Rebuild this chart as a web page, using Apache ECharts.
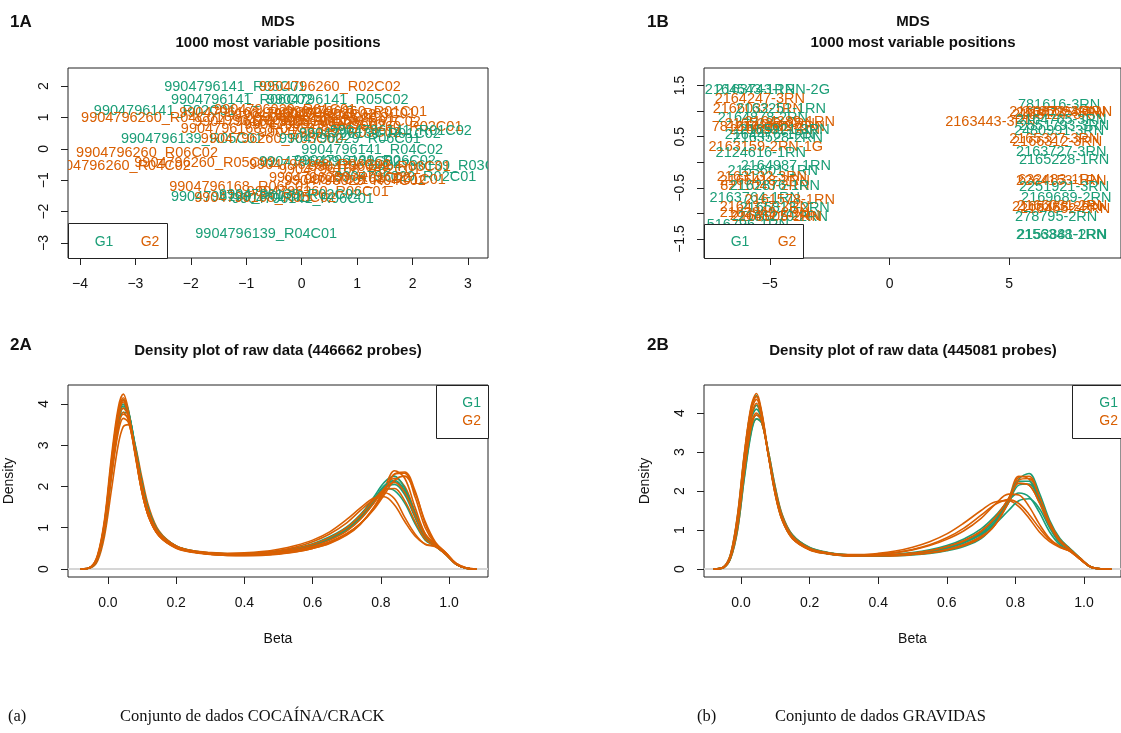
<!DOCTYPE html>
<html><head><meta charset="utf-8">
<script src="https://cdn.jsdelivr.net/npm/echarts@6/dist/echarts.min.js"></script>
<style>html,body{margin:0;padding:0;background:#fff}#c{width:1121px;height:733px}</style>
</head><body><div id="c"></div>
<script>
// ---------- colours ----------
const COL = { G1: '#1B9E77', G2: '#D95F02' };

// ---------- 1A : MDS (COCAINA/CRACK) ----------
const mdsA_labels = ["9904796141_R05C01","9904796260_R02C02","9904796141_R06C02","9904796141_R05C02","9904796141_R02C01","9904796260_R04C01","9904796260_R01C01","9904796168_R02C02","9904796029_R01C01","9904796029_R02C02","9904796168_R03C01","9904796260_R03C01","9904796029_R04C01","9904796168_R05C01","9904796029_R05C02","9904796168_R01C02","9904796260_R02C01","9904796141_R01C02","9904796168_R04C01","9904796029_R03C02","9904796139_R01C02","9904796139_R05C01","9904796260_R03C02","9904796029_R06C01","9904796260_R06C02","9904796141_R04C02","9904796260_R04C02","9904796260_R05C02","9904796139_R03C02","9904796029_R01C02","9904796139_R06C02","9904796168_R06C02","9904796029_R03C01","9904796168_R02C01","9904796029_R02C01","9904796168_R01C01","9904796260_R01C02","9904796029_R04C02","9904796168_R06C01","9904796260_R06C01","9904796139_R02C01","9904796141_R06C01","9904796168_R05C02","9904796139_R04C01","9904796139_R02C02"];
const mdsA_group  = ["G1","G2","G1","G1","G1","G2","G2","G2","G2","G2","G2","G2","G2","G2","G2","G2","G2","G1","G2","G2","G1","G1","G2","G1","G2","G1","G2","G2","G1","G1","G1","G2","G2","G2","G1","G2","G2","G2","G2","G2","G1","G1","G2","G1","G1"];
const mdsA_x = [-1.20,0.51,-1.08,0.65,-2.47,-2.70,0.98,-0.93,-0.30,0.06,0.42,0.78,-0.12,-0.66,0.24,0.87,1.62,1.79,-0.90,0.51,1.23,-1.98,-0.54,0.87,-2.79,1.27,-3.28,-1.74,2.50,0.51,1.14,0.33,1.41,0.87,1.87,1.32,0.69,0.96,-1.11,0.29,-1.08,0.02,-0.66,-0.64,-0.21];
const mdsA_y = [1.97,1.97,1.56,1.56,1.21,0.99,1.18,1.15,1.24,1.08,0.99,1.11,0.89,0.86,0.76,0.86,0.70,0.57,0.64,0.51,0.48,0.32,0.32,0.32,-0.13,-0.03,-0.54,-0.45,-0.54,-0.41,-0.38,-0.51,-0.57,-0.67,-0.89,-0.99,-0.92,-1.02,-1.21,-1.37,-1.53,-1.59,-1.56,-2.71,-1.46];
const mdsA_xTicks = [-4,-3,-2,-1,0,1,2,3];
const mdsA_yTicks = [-3,-2,-1,0,1,2];

// ---------- 1B : MDS (GRAVIDAS) ----------
const mdsB_labels = ["2164543-1RN","2163743-1RN-2G","2164247-3RN","2166032-1RN","2163251-1RN","2164878-2RN","781614-2RN","2165239-3RN","2163662-2RN","2164389-1RN","2166501-3RN","2165921-3RN","2163528-2RN","2164476-1RN","2163159-2RN-1G","2124616-1RN","2164987-1RN","2163601-1RN","2163132-3RN","2165418-2RN","8211043-2RN","2162876-1RN","2163764-1RN","2161578-1RN","2164327-2RN","2165813-2RN","2162949-2RN","2164121-2RN","2166270-2RN","2163905-2RN","516796-1RN","781616-3RN","2163872-3RN","2164735-3RN","2165094-3RN","2166127-3RN","2163443-3RN","2164765-3RN","2551793-3RN","2480991-3RN","2165327-3RN","2166312-3RN","2163727-3RN","2165228-1RN","632483-1RN","2264153-1RN","2251921-3RN","2169689-2RN","2165383-2RN","2166031-2RN","2164552-2RN","278795-2RN","2153881-2RN","2156348-1RN"];
const mdsB_group = ["G1","G1","G2","G2","G1","G1","G2","G2","G2","G2","G2","G1","G1","G1","G2","G1","G1","G1","G2","G2","G2","G1","G1","G2","G2","G1","G2","G2","G1","G2","G1","G1","G2","G2","G2","G2","G2","G1","G1","G1","G2","G2","G1","G1","G2","G2","G1","G1","G2","G2","G2","G1","G1","G1"];
const mdsB_x = [-5.83,-4.88,-5.42,-5.50,-4.54,-5.29,-5.71,-5.00,-4.58,-4.17,-4.79,-4.38,-4.67,-5.00,-5.17,-5.38,-4.33,-4.88,-5.33,-5.21,-5.21,-4.79,-5.63,-4.17,-5.21,-4.38,-5.21,-4.79,-4.46,-4.71,-5.92,7.08,6.88,7.17,7.42,7.00,4.21,7.17,7.29,7.08,6.88,7.00,7.17,7.29,7.08,7.17,7.29,7.38,7.00,7.21,7.33,6.96,7.21,7.17];
const mdsB_y = [1.41,1.41,1.23,1.04,1.04,0.86,0.68,0.74,0.68,0.78,0.63,0.63,0.47,0.53,0.29,0.18,-0.08,-0.18,-0.29,-0.37,-0.47,-0.47,-0.70,-0.74,-0.88,-0.90,-1.00,-1.06,-1.07,-1.07,-1.23,1.11,0.98,0.96,0.98,0.92,0.78,0.82,0.70,0.61,0.45,0.39,0.21,0.04,-0.35,-0.37,-0.49,-0.70,-0.88,-0.86,-0.92,-1.07,-1.43,-1.43];
const mdsB_xTicks = [-5,0,5];
const mdsB_yTicks = [-1.5,-1,-0.5,0,0.5,1,1.5];
const mdsB_yLabels = [-1.5,-0.5,0.5,1.5];

// ---------- 2A : density (446662 probes) ----------
const betaA = [-0.08,-0.05,-0.03,-0.01,0.01,0.03,0.045,0.06,0.08,0.10,0.12,0.15,0.2,0.25,0.3,0.35,0.4,0.45,0.5,0.55,0.6,0.65,0.7,0.74,0.78,0.81,0.84,0.87,0.9,0.93,0.96,0.99,1.02,1.05,1.08];
const densA_G1 = [
 [0,0.04,0.27,1.0,2.35,3.55,3.95,3.8,2.95,2.05,1.38,0.88,0.55,0.43,0.38,0.35,0.35,0.37,0.41,0.47,0.57,0.72,0.95,1.25,1.65,1.95,2.05,1.8,1.25,0.75,0.56,0.36,0.12,0.02,0],
 [0,0.05,0.3,1.08,2.5,3.7,4.1,3.85,2.9,1.95,1.3,0.84,0.53,0.42,0.37,0.35,0.35,0.37,0.41,0.47,0.58,0.74,0.98,1.3,1.75,2.1,2.25,1.95,1.35,0.8,0.57,0.37,0.12,0.02,0],
 [0,0.04,0.25,0.95,2.25,3.4,3.8,3.75,3.0,2.1,1.42,0.9,0.56,0.44,0.39,0.37,0.37,0.39,0.43,0.5,0.61,0.78,1.02,1.32,1.7,1.95,1.9,1.6,1.1,0.7,0.55,0.36,0.12,0.02,0],
 [0,0.04,0.28,1.02,2.4,3.6,4.0,3.8,2.9,2.0,1.35,0.86,0.54,0.42,0.37,0.34,0.34,0.36,0.4,0.46,0.56,0.71,0.94,1.22,1.62,2.0,2.15,1.9,1.3,0.78,0.56,0.36,0.12,0.02,0],
 [0,0.04,0.26,0.98,2.3,3.5,3.9,3.8,2.95,2.05,1.38,0.87,0.55,0.43,0.38,0.36,0.36,0.38,0.42,0.48,0.59,0.75,0.98,1.28,1.68,2.02,2.12,1.85,1.3,0.78,0.56,0.36,0.12,0.02,0]
];
const densA_G2 = [
 [0,0.05,0.35,1.2,2.7,3.9,4.24,3.85,2.8,1.85,1.25,0.8,0.52,0.42,0.37,0.35,0.35,0.37,0.41,0.47,0.57,0.72,0.95,1.25,1.65,2.0,2.2,2.0,1.4,0.85,0.6,0.38,0.12,0.02,0],
 [0,0.03,0.2,0.8,1.9,3.0,3.45,3.5,3.0,2.2,1.5,0.92,0.55,0.42,0.36,0.33,0.32,0.33,0.36,0.41,0.5,0.63,0.85,1.1,1.5,1.9,2.3,2.35,1.9,1.1,0.62,0.4,0.14,0.03,0],
 [0,0.04,0.28,1.0,2.3,3.5,3.8,3.6,2.8,1.95,1.3,0.85,0.55,0.44,0.4,0.38,0.39,0.42,0.48,0.57,0.7,0.9,1.2,1.48,1.72,1.75,1.55,1.15,0.8,0.6,0.55,0.36,0.12,0.02,0],
 [0,0.05,0.3,1.1,2.5,3.7,4.05,3.7,2.75,1.85,1.25,0.8,0.5,0.4,0.35,0.33,0.33,0.34,0.37,0.42,0.5,0.62,0.82,1.08,1.5,1.95,2.38,2.2,1.5,0.85,0.58,0.38,0.12,0.02,0],
 [0,0.04,0.25,0.95,2.2,3.3,3.65,3.55,2.85,2.0,1.35,0.88,0.56,0.44,0.39,0.37,0.37,0.4,0.45,0.53,0.66,0.85,1.12,1.42,1.7,1.85,1.7,1.25,0.85,0.6,0.54,0.35,0.12,0.02,0],
 [0,0.04,0.28,1.05,2.4,3.6,3.9,3.7,2.9,2.0,1.35,0.85,0.53,0.41,0.36,0.34,0.34,0.36,0.39,0.44,0.53,0.66,0.86,1.1,1.45,1.8,2.15,2.25,1.85,1.15,0.65,0.4,0.14,0.03,0],
 [0,0.05,0.33,1.15,2.6,3.8,4.15,3.8,2.8,1.85,1.25,0.8,0.51,0.41,0.36,0.34,0.34,0.36,0.4,0.46,0.55,0.7,0.92,1.2,1.6,1.95,2.1,1.85,1.3,0.8,0.58,0.37,0.12,0.02,0],
 [0,0.04,0.27,1.0,2.35,3.45,3.75,3.65,2.9,2.02,1.36,0.87,0.55,0.43,0.38,0.36,0.36,0.38,0.42,0.49,0.6,0.76,1.0,1.3,1.68,1.92,1.95,1.65,1.15,0.72,0.55,0.36,0.12,0.02,0],
 [0,0.05,0.32,1.12,2.55,3.75,4.1,3.75,2.8,1.88,1.27,0.82,0.52,0.41,0.36,0.34,0.34,0.35,0.38,0.43,0.51,0.64,0.84,1.1,1.48,1.85,2.3,2.32,1.75,1.0,0.6,0.39,0.13,0.02,0]
];

// ---------- 2B : density (445081 probes) ----------
const betaB = [-0.08,-0.05,-0.03,-0.01,0.01,0.03,0.045,0.06,0.08,0.10,0.12,0.15,0.2,0.25,0.3,0.35,0.4,0.45,0.5,0.55,0.6,0.65,0.7,0.74,0.78,0.81,0.84,0.87,0.9,0.93,0.96,0.99,1.02,1.05,1.08];
const densB_G1 = [
 [0,0.06,0.4,1.38,2.95,4.15,4.45,4.0,2.92,1.92,1.26,0.79,0.5,0.39,0.34,0.33,0.33,0.34,0.36,0.4,0.47,0.58,0.78,1.15,1.7,2.3,2.45,1.95,1.25,0.78,0.52,0.27,0.06,0.005,0],
 [0,0.04,0.3,1.1,2.5,3.65,3.95,3.8,2.95,2.02,1.34,0.84,0.53,0.42,0.37,0.36,0.36,0.38,0.42,0.49,0.6,0.77,1.03,1.35,1.75,1.95,1.85,1.45,0.95,0.62,0.47,0.25,0.05,0.005,0],
 [0,0.05,0.35,1.25,2.75,3.95,4.2,3.9,2.92,1.95,1.28,0.8,0.51,0.4,0.35,0.34,0.34,0.36,0.39,0.44,0.53,0.67,0.9,1.2,1.7,2.15,2.18,1.75,1.12,0.7,0.5,0.26,0.05,0.005,0],
 [0,0.04,0.28,1.02,2.35,3.5,3.85,3.75,3.0,2.08,1.38,0.87,0.55,0.43,0.37,0.35,0.35,0.36,0.4,0.45,0.54,0.67,0.88,1.15,1.5,1.75,1.8,1.55,1.05,0.66,0.5,0.26,0.05,0.005,0],
 [0,0.05,0.33,1.2,2.65,3.85,4.1,3.85,2.93,1.98,1.3,0.82,0.52,0.41,0.36,0.34,0.34,0.36,0.39,0.45,0.54,0.69,0.93,1.25,1.78,2.25,2.25,1.8,1.2,0.74,0.51,0.26,0.05,0.005,0]
];
const densB_G2 = [
 [0,0.06,0.4,1.4,3.0,4.2,4.5,4.05,2.95,1.95,1.28,0.8,0.5,0.4,0.35,0.34,0.34,0.35,0.38,0.43,0.5,0.63,0.85,1.2,1.8,2.38,2.3,1.75,1.15,0.72,0.5,0.25,0.05,0.005,0],
 [0,0.05,0.33,1.2,2.7,3.9,4.2,3.85,2.9,1.95,1.3,0.82,0.52,0.42,0.37,0.37,0.4,0.46,0.56,0.7,0.9,1.18,1.5,1.72,1.75,1.6,1.3,0.95,0.7,0.55,0.45,0.24,0.05,0.005,0],
 [0,0.04,0.28,1.0,2.4,3.55,3.85,3.75,3.0,2.1,1.4,0.88,0.55,0.42,0.36,0.35,0.35,0.37,0.41,0.47,0.57,0.73,0.98,1.3,1.8,2.2,2.15,1.7,1.1,0.68,0.48,0.25,0.05,0.005,0],
 [0,0.05,0.36,1.3,2.85,4.05,4.35,3.95,2.9,1.9,1.25,0.78,0.49,0.39,0.34,0.33,0.33,0.34,0.37,0.41,0.48,0.6,0.8,1.12,1.75,2.35,2.38,1.85,1.15,0.72,0.5,0.26,0.05,0.005,0],
 [0,0.05,0.32,1.15,2.6,3.75,4.0,3.8,2.9,2.0,1.33,0.84,0.53,0.42,0.37,0.36,0.38,0.42,0.49,0.6,0.76,0.98,1.3,1.65,1.92,1.9,1.6,1.15,0.78,0.58,0.46,0.24,0.05,0.005,0],
 [0,0.04,0.3,1.1,2.5,3.65,3.95,3.8,2.95,2.0,1.33,0.83,0.52,0.41,0.35,0.34,0.34,0.35,0.38,0.42,0.5,0.62,0.82,1.12,1.7,2.28,2.32,1.85,1.2,0.75,0.5,0.27,0.06,0.005,0],
 [0,0.06,0.38,1.35,2.95,4.15,4.42,4.0,2.9,1.9,1.25,0.78,0.5,0.4,0.35,0.35,0.37,0.42,0.5,0.62,0.8,1.05,1.38,1.65,1.78,1.68,1.4,1.05,0.75,0.57,0.45,0.24,0.05,0.005,0],
 [0,0.05,0.34,1.22,2.7,3.9,4.25,3.9,2.92,1.95,1.29,0.81,0.51,0.4,0.35,0.34,0.35,0.37,0.41,0.47,0.57,0.72,0.96,1.3,1.8,2.2,2.15,1.7,1.12,0.7,0.49,0.26,0.05,0.005,0]
];
const densXTicks = [0,0.2,0.4,0.6,0.8,1.0];
const densA_yTicks = [0,1,2,3,4];
const densB_yTicks = [0,1,2,3,4];

// ---------- texts ----------
const panelTags = ["1A","1B","2A","2B"];
const titleMDS = ["MDS","1000 most variable positions"];
const titleDensA = "Density plot of raw data (446662 probes)";
const titleDensB = "Density plot of raw data (445081 probes)";
const groupNames = ["G1","G2"];
const captionA = ["(a)","Conjunto de dados COCAÍNA/CRACK"];
const captionB = ["(b)","Conjunto de dados GRAVIDAS"];

// ---------- layout ----------
const FONT = 'Liberation Sans';
const minus = v => String(v).replace('-', '\u2212');
const grids = [
  {left:68, top:68, width:420, height:190},
  {left:704, top:68, width:418, height:190},
  {left:68, top:385, width:420, height:192},
  {left:704, top:385, width:418, height:192}
];
function axis(gi, min, max, ticks, labels, fmt, isY, name) {
  const a = {
    type:'value', gridIndex:gi, min:min, max:max,
    axisLine:{show:false, onZero:false}, splitLine:{show:false},
    axisTick:{show:true, inside:false, length:7, customValues:ticks, lineStyle:{color:'#222', width:1}},
    axisLabel:{show:true, customValues:labels, formatter:fmt, color:'#111', fontFamily:FONT, fontSize:14,
               margin: isY ? 17 : 19, rotate: isY ? 90 : 0}
  };
  if (name) {
    a.name = name; a.nameLocation = 'middle';
    a.nameGap = isY ? 52 : 55; a.nameRotate = isY ? 90 : 0;
    a.nameTextStyle = {color:'#111', fontFamily:FONT, fontSize:14};
  }
  return a;
}
const xAxes = [
  axis(0, -4.216, 3.361, mdsA_xTicks, mdsA_xTicks, minus, false),
  axis(1, -7.75, 9.667, mdsB_xTicks, mdsB_xTicks, minus, false),
  axis(2, -0.117, 1.114, densXTicks, densXTicks, v => v.toFixed(1), false, 'Beta'),
  axis(3, -0.108, 1.108, densXTicks, densXTicks, v => v.toFixed(1), false, 'Beta')
];
const yAxes = [
  axis(0, -3.478, 2.573, mdsA_yTicks, mdsA_yTicks, minus, true),
  axis(1, -1.871, 1.842, mdsB_yTicks, mdsB_yLabels, minus, true),
  axis(2, -0.194, 4.46, densA_yTicks, densA_yTicks, v => String(v), true, 'Density'),
  axis(3, -0.205, 4.718, densB_yTicks, densB_yTicks, v => String(v), true, 'Density')
];

function textSeries(gi, labels, xs, ys, groups) {
  return {
    type:'custom', coordinateSystem:'cartesian2d', xAxisIndex:gi, yAxisIndex:gi, clip:true, silent:true,
    data: xs.map((x,i)=>[x, ys[i]]),
    renderItem: (params, api) => {
      const i = params.dataIndex;
      const p = api.coord([api.value(0), api.value(1)]);
      return {type:'text', x:p[0], y:p[1], style:{text:labels[i], fill:COL[groups[i]],
        font:'14.5px "' + FONT + '"', textAlign:'center', textVerticalAlign:'middle'}};
    }
  };
}
function densSeries(gi, xs, curves, color) {
  return curves.map(c => ({
    type:'line', xAxisIndex:gi, yAxisIndex:gi, showSymbol:false, symbol:'none', smooth:0.35, silent:true,
    data: xs.map((x,i)=>[x, c[i]]), lineStyle:{color:color, width:1.6}, z:3
  }));
}
function zeroLine(gi, xmin, xmax) {
  return {type:'line', xAxisIndex:gi, yAxisIndex:gi, showSymbol:false, symbol:'none', silent:true,
    data:[[xmin,0],[xmax,0]], lineStyle:{color:'#d6d6d6', width:2}, z:2};
}
function interleave(a, b) {
  const out = []; const n = Math.max(a.length, b.length);
  for (let i=0;i<n;i++){ if (a[i]) out.push(a[i]); if (b[i]) out.push(b[i]); }
  return out;
}

const series = [
  textSeries(0, mdsA_labels, mdsA_x, mdsA_y, mdsA_group),
  textSeries(1, mdsB_labels, mdsB_x, mdsB_y, mdsB_group),
  zeroLine(2, -0.117, 1.114),
  ...interleave(densSeries(2, betaA, densA_G1, COL.G1), densSeries(2, betaA, densA_G2, COL.G2)),
  zeroLine(3, -0.108, 1.108),
  ...interleave(densSeries(3, betaB, densB_G1, COL.G1), densSeries(3, betaB, densB_G2, COL.G2))
];

function T(text, x, y, font, fill, align) {
  return {type:'text', x:x, y:y, silent:true, z:10,
    style:{text:text, font:font, fill:fill||'#111', textAlign:align||'center', textVerticalAlign:'middle'}};
}
function box(x, y, w, h) {
  return {type:'rect', shape:{x:x+0.5, y:y+0.5, width:w, height:h}, silent:true, z:9,
    style:{fill:'#fff', stroke:'#222', lineWidth:1}};
}
const bold15 = 'bold 15px "' + FONT + '"';
const bold17 = 'bold 17px "' + FONT + '"';
const leg = '14px "' + FONT + '"';
const serif = '16.5px "Liberation Serif"';
const graphics = [
  T(panelTags[0], 10, 22, bold17, '#111', 'left'),
  T(panelTags[1], 647, 22, bold17, '#111', 'left'),
  T(panelTags[2], 10, 345, bold17, '#111', 'left'),
  T(panelTags[3], 647, 345, bold17, '#111', 'left'),
  T(titleMDS[0], 278, 22, bold15), T(titleMDS[1], 278, 43, bold15),
  T(titleMDS[0], 913, 22, bold15), T(titleMDS[1], 913, 43, bold15),
  T(titleDensA, 278, 351, bold15), T(titleDensB, 913, 351, bold15),
  box(68, 223, 99, 35), T(groupNames[0], 104, 242, leg, COL.G1), T(groupNames[1], 150, 242, leg, COL.G2),
  box(704, 224, 99, 34), T(groupNames[0], 740, 242, leg, COL.G1), T(groupNames[1], 787, 242, leg, COL.G2),
  box(436, 385, 52, 53), T(groupNames[0], 481, 403, leg, COL.G1, 'right'), T(groupNames[1], 481, 421, leg, COL.G2, 'right'),
  box(1072, 385, 60, 53), T(groupNames[0], 1118, 403, leg, COL.G1, 'right'), T(groupNames[1], 1118, 421, leg, COL.G2, 'right'),
  T(captionA[0], 8, 717, serif, '#111', 'left'), T(captionA[1], 120, 717, serif, '#111', 'left'),
  T(captionB[0], 697, 717, serif, '#111', 'left'), T(captionB[1], 775, 717, serif, '#111', 'left')
];

const chart = echarts.init(document.getElementById('c'), null, {renderer:'canvas'});
chart.setOption({
  animation:false, backgroundColor:'#fff',
  grid: grids.map(g => Object.assign({show:true, borderColor:'#222', borderWidth:1, backgroundColor:'transparent', containLabel:false}, g)),
  xAxis: xAxes, yAxis: yAxes, series: series, graphic: graphics
});
</script></body></html>
